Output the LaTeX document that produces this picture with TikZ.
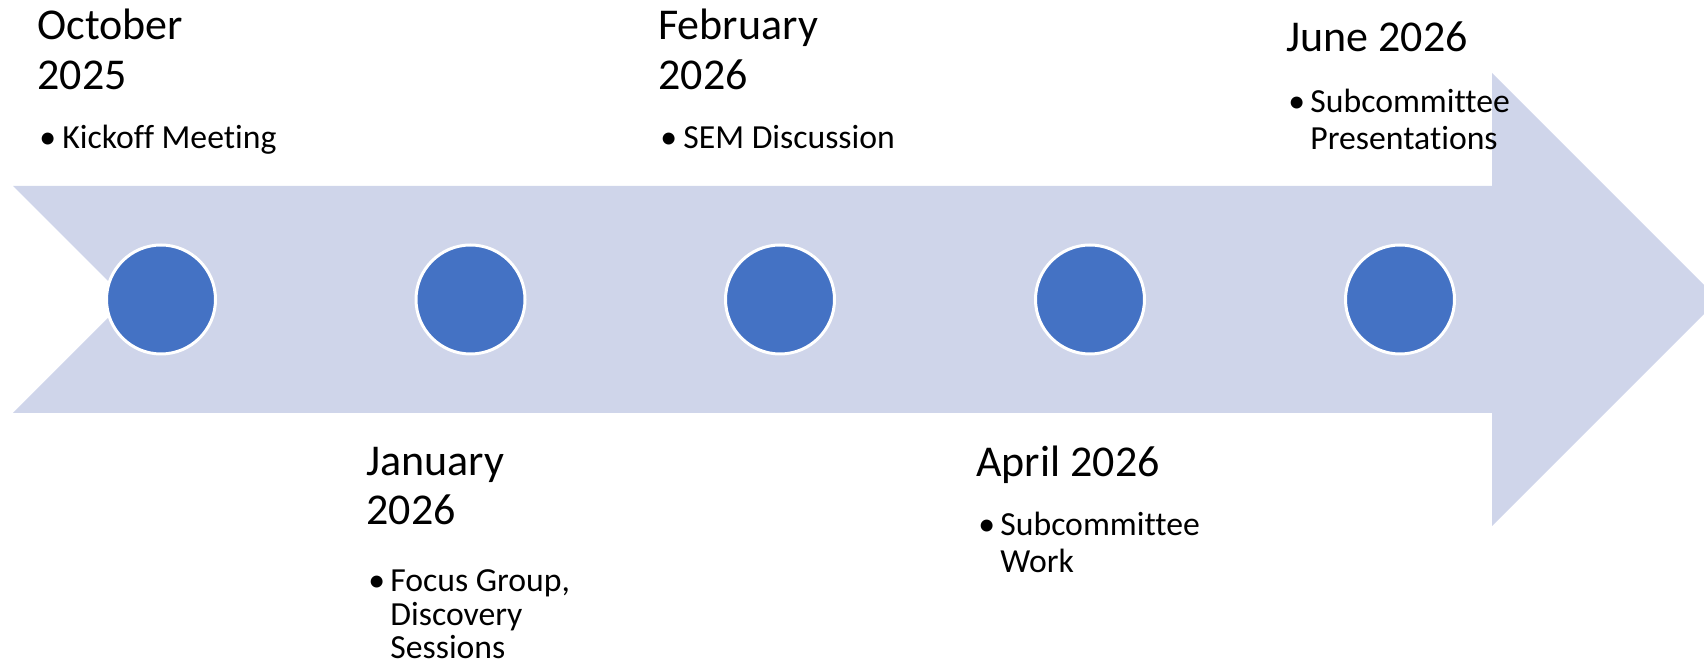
\documentclass[tikz,border=0pt]{standalone}
\usepackage{fontspec}
\setmainfont{Carlito}[Ligatures={NoCommon}]
\usepackage{tikz}
\usetikzlibrary{positioning}
\definecolor{bandfill}{HTML}{CFD5EA}
\definecolor{dotblue}{HTML}{4472C4}

\begin{document}
\begin{tikzpicture}[x=0.5pt, y=-0.5pt,
    month/.style={font=\fontsize{22pt}{24.5pt}\selectfont, inner sep=0pt, anchor=base west},
    itemline/.style={font=\fontsize{16.85pt}{18.5pt}\selectfont, inner sep=0pt, anchor=base west},
    milestone/.style={circle, fill=dotblue, draw=white, line width=1.5pt, minimum size=54.5pt, inner sep=0pt}]
    \useasboundingbox (0,0) rectangle (1704,667);
    \clip (0,0) rectangle (1704,667);

    % Arrow band with notched tail
    \fill[bandfill] (13,186) -- (1492,186) -- (1492,73) -- (1718.5,299.5) -- (1492,526)
        -- (1492,413) -- (13,413) -- (126.5,299.5) -- cycle;

    % Milestone dots
    \foreach \i/\x in {1/161, 2/470.5, 3/780, 4/1090, 5/1400} {
        \node[milestone] (ms\i) at (\x, 299.5) {};
    }

    % Top labels (October, February, June)
    \node[month] (oct1) at (37, 40) {October};
    \node[month] (oct2) at (37, 90) {2025};
    \node[itemline] (octb) at (39, 149) {•};
    \node[itemline] (octt) at (62, 149) {Kickoff Meeting};

    \node[month] (feb1) at (658, 40) {February};
    \node[month] (feb2) at (658, 90) {2026};
    \node[itemline] (febb) at (660, 149) {•};
    \node[itemline] (febt) at (683, 149) {SEM Discussion};

    \node[month] (jun1) at (1286, 52) {June 2026};
    \node[itemline] (junb) at (1288, 113) {•};
    \node[itemline] (junt1) at (1310, 113) {Subcommittee};
    \node[itemline] (junt2) at (1310, 150) {Presentations};

    % Bottom labels (January, April)
    \node[month] (jan1) at (366, 476) {January};
    \node[month] (jan2) at (366, 525) {2026};
    \node[itemline] (janb) at (368, 592) {•};
    \node[itemline] (jant1) at (390, 592) {Focus Group,};
    \node[itemline] (jant2) at (390, 626) {Discovery};
    \node[itemline] (jant3) at (390, 659) {Sessions};

    \node[month] (apr1) at (976, 477) {April 2026};
    \node[itemline] (aprb) at (978, 536) {•};
    \node[itemline] (aprt1) at (1000, 536) {Subcommittee};
    \node[itemline] (aprt2) at (1000, 573) {Work};
\end{tikzpicture}
\end{document}
